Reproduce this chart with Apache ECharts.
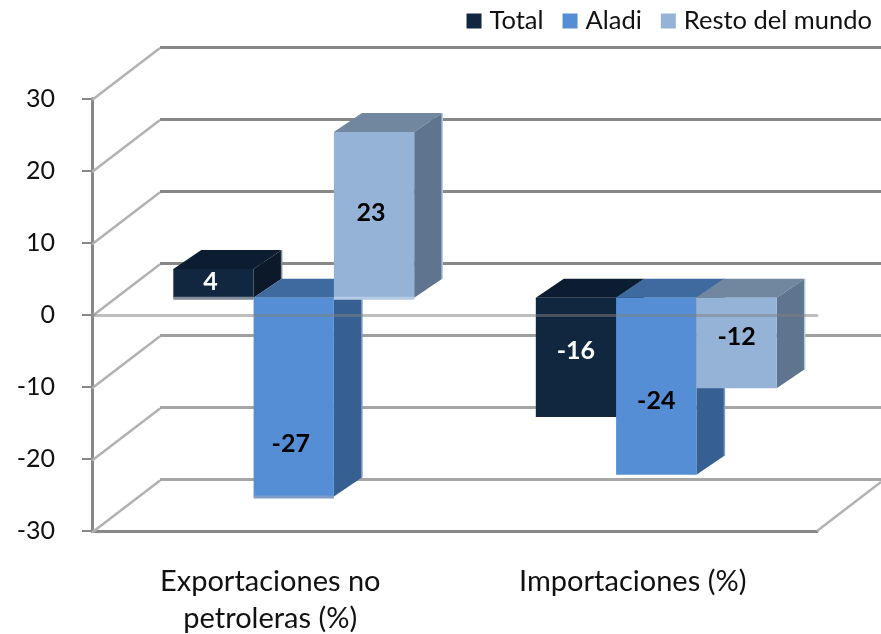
<!DOCTYPE html>
<html>
<head>
<meta charset="utf-8">
<title>Exportaciones e importaciones</title>
<style>
	html, body { margin: 0; padding: 0; background: #fff; }
	#chart { width: 881px; height: 634px; }
</style>
<script src="https://cdn.jsdelivr.net/npm/echarts@6/dist/echarts.min.js"></script>
</head>
<body>
<div id="chart"></div>
<script>
	var categories = ['Exportaciones no\npetroleras (%)', 'Importaciones (%)'];
	var seriesNames = ['Total', 'Aladi', 'Resto del mundo'];
	var total = [4, -16];
	var aladi = [-27, -24];
	var resto = [23, -12];
	var yTicks = [-30, -20, -10, 0, 10, 20, 30];

	var font = 'Lato, Carlito, "Open Sans", sans-serif';
	var axisGrey = '#888888';
	// offset of the bar plane and of the back wall, from the front of the box
	var barShiftX = 20.5, barShiftUp = -17, barShiftDown = -13, zeroShift = -17;
	var depthX = 28, depthY = -19;
	var wallX = 68, wallY = -52;
	var barShare = 0.2215;
	// data labels of the first group sit a little left of the bar centre
	var labelShiftX = [-3, 0];

	var looks = [
		{ front: '#11263f', top: '#0c1c31', side: '#0b1929', edge: '#7f8b99', text: '#fff', nudge: [-1, -6] },
		{ front: '#558ed5', top: '#3f6a9f', side: '#376092', edge: '#7f9cc9', text: '#000', nudge: [47, 15] },
		{ front: '#95b3d7', top: '#71869f', side: '#5f748e', edge: '#b5cbe3', text: '#000', nudge: [-2, -6] }
	];

	function barItem(look, slot) {
		return function (params, api) {
			var value = api.value(1);
			var band = api.size([1, 0])[0];
			var w = band * barShare;
			var pos = api.coord([api.value(0), value]);
			var zero = api.coord([api.value(0), 0]);
			var x0 = pos[0] + barShiftX + (slot - 2.5) * w;
			var x1 = x0 + w;
			var base = zero[1] + zeroShift;
			var end = pos[1] + (value < 0 ? barShiftDown : barShiftUp);
			var yTop = Math.min(base, end), yBot = Math.max(base, end);
			var children = [
				{ type: 'polygon', shape: { points: [[x0, yTop], [x0 + depthX, yTop + depthY], [x1 + depthX, yTop + depthY], [x1, yTop]] }, style: { fill: look.top } },
				{ type: 'polygon', shape: { points: [[x1, yTop], [x1 + depthX, yTop + depthY], [x1 + depthX, yBot + depthY], [x1, yBot]] }, style: { fill: look.side } },
				{ type: 'rect', shape: { x: x0, y: yTop, width: w, height: yBot - yTop }, style: { fill: look.front } },
				{ type: 'line', shape: { x1: x1 + depthX, y1: yTop + depthY, x2: x1 + depthX, y2: yBot + depthY }, style: { stroke: look.edge, lineWidth: 1.5 } }
			];
			// first group has the pale strip along the bottom of the front face
			if (params.dataIndex === 0) {
				children.push({ type: 'rect', shape: { x: x0, y: yBot - 1, width: w, height: 3 }, style: { fill: look.edge } });
			}
			children.push({
				type: 'text',
				style: {
					x: (x0 + x1) / 2 + labelShiftX[params.dataIndex],
					y: (yTop + yBot) / 2 + look.nudge[params.dataIndex],
					text: String(value),
					fill: look.text,
					font: 'bold 25px ' + font,
					textAlign: 'center',
					textVerticalAlign: 'middle'
				}
			});
			return { type: 'group', children: children };
		};
	}

	function barSeries(name, values, slot) {
		var look = looks[slot - 1];
		return {
			name: name,
			type: 'custom',
			xAxisIndex: 1,
			yAxisIndex: 1,
			coordinateSystem: 'cartesian2d',
			clip: false,
			silent: true,
			z: 3,
			itemStyle: { color: look.front },
			renderItem: barItem(look, slot),
			data: values.map(function (v, i) { return [i, v]; })
		};
	}

	// diagonal lines of the left wall, one per tick
	var wallSeries = {
		type: 'custom',
		xAxisIndex: 1,
		yAxisIndex: 1,
		clip: false,
		silent: true,
		z: 1,
		renderItem: function (params, api) {
			var band = api.size([1, 0])[0];
			var p = api.coord([0, api.value(0)]);
			var x = p[0] - band / 2, y = p[1] + 1.5;
			return {
				type: 'line',
				shape: { x1: x, y1: y, x2: x + wallX, y2: y + wallY },
				style: { stroke: '#b2b2b2', lineWidth: 2.5 }
			};
		},
		data: yTicks.map(function (t) { return [t]; })
	};

	// the one diagonal at the bottom right corner of the floor
	var floorSeries = {
		type: 'custom',
		xAxisIndex: 1,
		yAxisIndex: 1,
		clip: false,
		silent: true,
		z: 1,
		renderItem: function (params, api) {
			var band = api.size([1, 0])[0];
			var p = api.coord([1, api.value(0)]);
			var x = p[0] + band / 2, y = p[1];
			return {
				type: 'line',
				shape: { x1: x, y1: y, x2: x + 64, y2: y - 49 },
				style: { stroke: '#b2b2b2', lineWidth: 2.5 }
			};
		},
		data: [[yTicks[0]]]
	};

	var option = {
		backgroundColor: '#fff',
		animation: false,
		legend: {
			data: seriesNames,
			right: 4,
			top: 3,
			icon: 'rect',
			itemWidth: 15,
			itemHeight: 15,
			itemGap: 19,
			selectedMode: false,
			textStyle: { fontFamily: font, fontSize: 25.5, color: '#111', padding: [0, 0, 0, 3] }
		},
		grid: [
			{ left: 160, width: 721, top: 47.5, height: 432, outerBoundsMode: 'none' },
			{ left: 92, width: 725, top: 98.5, height: 432.5, outerBoundsMode: 'none' }
		],
		xAxis: [
			{ gridIndex: 0, type: 'category', data: categories, show: false },
			{
				gridIndex: 1, type: 'category', data: categories, position: 'bottom',
				axisLine: { onZero: false, lineStyle: { color: axisGrey, width: 3 } },
				axisTick: { show: false },
				axisLabel: { fontFamily: font, fontSize: 29, color: '#111', lineHeight: 37, margin: 32, interval: 0, padding: [0, 6, 0, 0] }
			},
			{
				gridIndex: 1, type: 'category', data: categories, z: 10,
				axisLine: { onZero: true, lineStyle: { color: 'rgba(128,128,128,0.5)', width: 3 } },
				axisTick: { show: false },
				axisLabel: { show: false }
			}
		],
		yAxis: [
			{
				gridIndex: 0, type: 'value', min: -30, max: 30, interval: 10,
				axisLine: { show: false }, axisTick: { show: false }, axisLabel: { show: false },
				splitLine: { show: true, lineStyle: { width: 3, color: ['#a6a6a6', '#a6a6a6', '#a0a0a0', '#888888', '#888888', '#888888', '#888888'] } }
			},
			{
				gridIndex: 1, type: 'value', min: -30, max: 30, interval: 10,
				axisLine: { show: true, lineStyle: { color: axisGrey, width: 3 } },
				axisTick: { show: true, length: 10, lineStyle: { color: axisGrey, width: 2 } },
				axisLabel: { fontFamily: font, fontSize: 25, color: '#111', margin: 37 },
				splitLine: { show: false }
			}
		],
		series: [
			wallSeries,
			floorSeries,
			barSeries(seriesNames[0], total, 1),
			barSeries(seriesNames[1], aladi, 2),
			barSeries(seriesNames[2], resto, 3)
		]
	};

	var chart = echarts.init(document.getElementById('chart'), null, { renderer: 'canvas' });
	chart.setOption(option);
</script>
</body>
</html>
